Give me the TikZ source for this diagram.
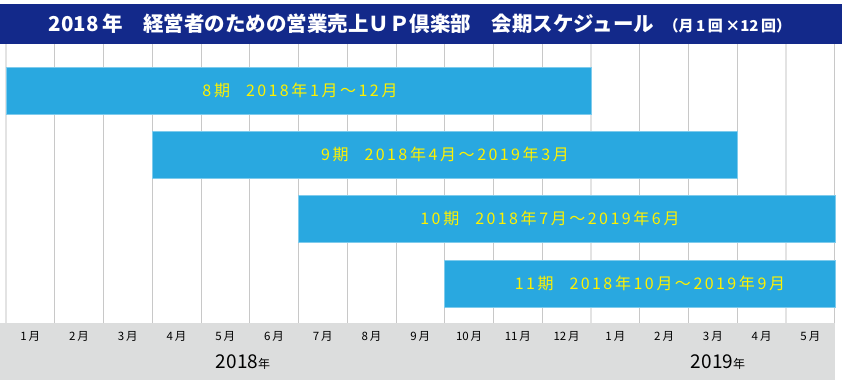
\documentclass[tikz,border=0pt]{standalone}
\usepackage{fontspec}
\setmainfont{Noto Sans CJK JP}
\usetikzlibrary{positioning}
\definecolor{titleblue}{HTML}{13298A}
\definecolor{barblue}{HTML}{29A8E0}
\definecolor{baryellow}{HTML}{FFF100}
\definecolor{bandgray}{HTML}{DCDDDD}
\definecolor{gridgray}{HTML}{C8C8C8}
\definecolor{gridlight}{HTML}{E3E3E3}

\begin{document}
\begin{tikzpicture}[x=1pt,y=-1pt]
\tikzstyle{every node}=[inner sep=0pt]
\tikzstyle{term}=[font=\fontsize{16}{18}\selectfont\addfontfeatures{LetterSpace=15}, text=baryellow]
\tikzstyle{month}=[font=\fontsize{11.5}{13}\selectfont]
\tikzstyle{termbar}=[fill=barblue, draw=barblue!60!white, line width=0.6pt]
\useasboundingbox (0,0) rectangle (842,386);

% title bar
\fill[titleblue] (0,4) rectangle (842,44);
\node[text=white, font=\bfseries\fontsize{20.5}{23}\selectfont] (title) at (420,24)
  {2018\,年\quad 経営者のための営業売上ＵＰ倶楽部\quad 会期スケジュール\ \ {\fontsize{15}{17}\selectfont （月\,1\,回\,×12\,回）}};

% month grid
\foreach \i in {1,...,11,13,14,15,17}
  \draw[gridgray, line width=1pt] (6+\i*48.75,44) -- (6+\i*48.75,323);
\foreach \i in {0,12,16}
  \draw[gridlight, line width=2pt] (6+\i*48.75,44) -- (6+\i*48.75,323);

% bottom band
\fill[bandgray] (0,323) rectangle (835,380);

% terms
\filldraw[termbar] (6,67) rectangle (591,114);
\filldraw[termbar] (152.25,131) rectangle (737.25,178);
\filldraw[termbar] (298.5,195) rectangle (835,242);
\filldraw[termbar] (444.75,260) rectangle (835,307);
\node[term] (t8) at (300,90.5) {8\,期\quad 2018\,年\,1\,月～\,12\,月};
\node[term] (t9) at (445,154.5) {9\,期\quad 2018\,年\,4\,月～\,2019\,年\,3\,月};
\node[term] (t10) at (550,218.5) {10\,期\quad 2018\,年\,7\,月～\,2019\,年\,6\,月};
\node[term] (t11) at (650,283.5) {11\,期\quad 2018\,年\,10\,月～\,2019\,年\,9\,月};

% months and years
\foreach \m [count=\i] in {1,2,3,4,5,6,7,8,9,10,11,12,1,2,3,4,5}
  \node[month] (m\i) at (6+\i*48.75-24.4,336) {\m\,月};
\node[font=\fontsize{19}{22}\selectfont] (y2018) at (243,362) {2018{\fontsize{12}{14}\selectfont 年}};
\node[font=\fontsize{19}{22}\selectfont] (y2019) at (718,362) {2019{\fontsize{12}{14}\selectfont 年}};

\end{tikzpicture}
\end{document}
